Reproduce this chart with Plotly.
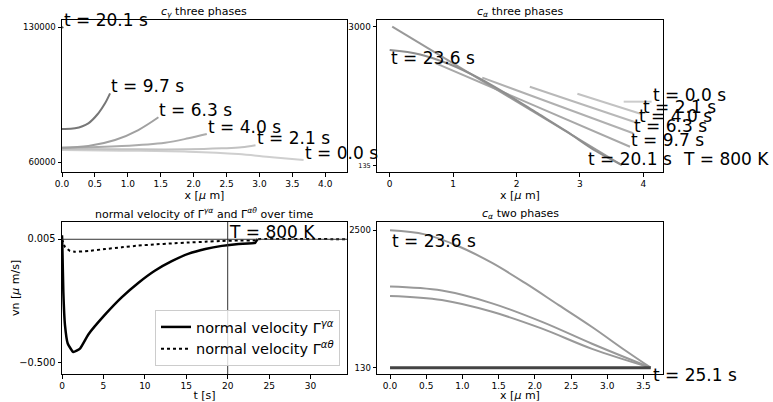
import plotly.graph_objects as go

# ---------------- data ----------------
# top-left: c_gamma, three phases
cg_labels = ["0.0", "2.1", "4.0", "6.3", "9.7", "20.1"]
cg_x = [
    [0, 0.907, 1.92, 2.68, 3.19, 3.67],
    [0, 0.907, 1.92, 2.43, 2.73, 2.94],
    [0, 0.907, 1.566, 1.92, 2.2],
    [0, 0.40, 0.806, 1.16, 1.465],
    [0, 0.198, 0.40, 0.552, 0.654, 0.73],
    [0, 0.02],
]
cg_y = [
    [66230, 65880, 65350, 64150, 62440, 61040],
    [66740, 66590, 66590, 67100, 67620, 68660],
    [67400, 68300, 70010, 72290, 74520],
    [67420, 68300, 71410, 76590, 83180],
    [77110, 77475, 80070, 85250, 90440, 95600],
    [129600, 130000],
]
cg_colors = ["#cfcfcf", "#c2c2c2", "#acacac", "#a0a0a0", "#777777", "#555555"]

# top-right: c_alpha, three phases
ca_labels = ["0.0", "2.1", "4.0", "6.3", "9.7", "20.1", "23.6"]
ca_x = [
    [3.69, 4.13],
    [2.96, 3.98],
    [2.21, 3.92],
    [1.46, 3.84],
    [0.73, 3.79],
    [0.04, 3.66],
    [0, 0.48, 0.945, 1.41, 1.87, 2.33, 2.79, 3.25, 3.66],
]
ca_y = [
    [1450, 1450],
    [1615, 1188],
    [1761, 1001],
    [1948, 793],
    [2246, 515],
    [3006, 135],
    [2520, 2430, 2226, 1937, 1588, 1210, 832, 426, 135],
]
ca_colors = ["#cccccc", "#c2c2c2", "#b8b8b8", "#b0b0b0", "#a8a8a8", "#999999", "#8e8e8e"]
ca_label_pos = {"20.1": (3.11, 121), "23.6": (0.0, 2211)}

# bottom-left: normal velocity over time
vel_t_ga = [0, 0.04, 0.16, 0.36, 0.69, 1.37, 2.17, 3.18, 5.19, 7.2, 9.2, 11.2,
            13.25, 15.3, 17.3, 19.3, 21.3, 23.3, 23.6]
vel_ga = [0.02, -0.020, -0.211, -0.348, -0.423, -0.458, -0.444, -0.386, -0.305,
          -0.234, -0.175, -0.125, -0.086, -0.055, -0.036, -0.023, -0.015, -0.011, 0.005]
vel_t_at = [0, 0.36, 0.97, 1.57, 3.18, 5.19, 7.2, 9.2, 11.2, 13.25, 15.3, 17.3,
            19.3, 21.3, 23.3, 23.6, 35]
vel_at = [0.005, -0.027, -0.044, -0.047, -0.044, -0.036, -0.029, -0.022, -0.017,
          -0.013, -0.009, -0.006, -0.003, -0.001, 0.000, 0.004, 0.004]

# bottom-right: c_alpha, two phases
c2_x = [
    [0, 0.48, 0.945, 1.41, 1.87, 2.33, 2.79, 3.25, 3.6],
    [0, 0.715, 1.41, 2.1, 2.79, 3.6],
    [0, 0.715, 1.41, 2.1, 2.79, 3.6],
]
c2_y = [
    [2500, 2430, 2226, 1937, 1588, 1210, 832, 426, 130],
    [1529, 1460, 1240, 920, 543, 130],
    [1367, 1297, 1094, 804, 455, 130],
]
c2_final_x = [0, 3.6]
c2_final_y = [130, 130]

# ---------------- figure ----------------
fig = go.Figure()
FONT = "DejaVu Sans"
LBL = 17

W, H = 773, 402

def dx(p):
    return p / W

def dy(p):
    return 1 - p / H

ann = []

def label(text, x, y, xref, yref, size=LBL):
    ann.append(dict(text=text, x=x, y=y, xref=xref, yref=yref, xanchor="left",
                    yanchor="bottom", yshift=-5, xshift=-1, showarrow=False,
                    font=dict(size=size, color="black", family=FONT)))

for xs, ys, c, lab in zip(cg_x, cg_y, cg_colors, cg_labels):
    fig.add_trace(go.Scatter(x=xs, y=ys, mode="lines", line=dict(color=c, width=2, shape="spline"),
                             xaxis="x", yaxis="y", showlegend=False))
    label(f"t = {lab} s", xs[-1], ys[-1], "x", "y")

for xs, ys, c, lab in zip(ca_x, ca_y, ca_colors, ca_labels):
    fig.add_trace(go.Scatter(x=xs, y=ys, mode="lines", line=dict(color=c, width=2, shape="spline"),
                             xaxis="x2", yaxis="y2", showlegend=False))
    px, py = ca_label_pos.get(lab, (xs[-1], ys[-1]))
    label(f"t = {lab} s", px, py, "x2", "y2")
label("T = 800 K", dx(681.7), dy(165.7), "paper", "paper")

fig.add_trace(go.Scatter(x=vel_t_ga, y=vel_ga, mode="lines",
                         line=dict(color="black", width=2.5, shape="spline", smoothing=0.4),
                         name="normal velocity Γ<sup><i>γα</i></sup>", xaxis="x3", yaxis="y3"))
fig.add_trace(go.Scatter(x=vel_t_at, y=vel_at, mode="lines",
                         line=dict(color="black", width=2, dash="dot", shape="spline", smoothing=0.4),
                         name="normal velocity Γ<sup><i>αθ</i></sup>", xaxis="x3", yaxis="y3"))
label("T = 800 K", 20, 0.005, "x3", "y3")

for xs, ys in zip(c2_x, c2_y):
    fig.add_trace(go.Scatter(x=xs, y=ys, mode="lines", line=dict(color="#999999", width=2, shape="spline"),
                             xaxis="x4", yaxis="y4", showlegend=False))
fig.add_trace(go.Scatter(x=c2_final_x, y=c2_final_y, mode="lines", line=dict(color="#444444", width=3),
                         xaxis="x4", yaxis="y4", showlegend=False))
label("t = 23.6 s", 0.01, 2200, "x4", "y4")
label("t = 25.1 s", dx(651.7), dy(381.7), "paper", "paper")

# reference lines in velocity panel
fig.add_shape(type="line", xref="x3 domain", yref="y3", x0=0, x1=1, y0=0.004, y1=0.004,
              line=dict(color="#333333", width=1))
fig.add_shape(type="line", xref="x3", yref="y3 domain", x0=20, x1=20, y0=0, y1=1,
              line=dict(color="#333333", width=1))

xl = [dx(62), dx(347)]
xr = [dx(377), dx(663)]
yt = [dy(172), dy(20)]
yb = [dy(374), dy(222)]

def ax(domain, anchor, rng, tickvals, ticktext=None, size=9, title=None, standoff=3):
    d = dict(domain=domain, anchor=anchor, range=rng, showgrid=False, zeroline=False,
             showline=True, linecolor="black", linewidth=1, mirror=True, automargin=False,
             ticks="outside", ticklen=3.5, tickwidth=1, tickcolor="black",
             tickvals=tickvals, tickfont=dict(size=size, color="black", family=FONT))
    if ticktext is not None:
        d["ticktext"] = ticktext
    if title:
        d["title"] = dict(text=title, font=dict(size=11, color="black", family=FONT), standoff=standoff)
    return d

xt_tl = [0, 0.5, 1.0, 1.5, 2.0, 2.5, 3.0, 3.5, 4.0]
xt_br = [0, 0.5, 1.0, 1.5, 2.0, 2.5, 3.0, 3.5]
xt_bl = [0, 5, 10, 15, 20, 25, 30]
xtitle = "x [<i>μ</i> m]"

fig.update_layout(
    width=W, height=H, margin=dict(l=0, r=0, t=0, b=0),
    paper_bgcolor="white", plot_bgcolor="white",
    font=dict(family=FONT, color="black"),
    xaxis=ax(xl, "y", [0, 4.33], xt_tl, [f"{v:.1f}" for v in xt_tl], title=xtitle),
    yaxis=ax(yt, "x", [54815, 133630], [60000, 130000], ["60000", "130000"], size=8.6),
    xaxis2=ax(xr, "y2", [-0.2, 4.31], [0, 1, 2, 3, 4], title=xtitle),
    yaxis2=ax(yt, "x2", [-10, 3145], [135, 3000],
              ["<span style='font-size:6.5px'>135</span>", "3000"], size=8.8),
    xaxis3=ax(xl, "y3", [0, 34.4], xt_bl, [str(v) for v in xt_bl], title="t [s]"),
    yaxis3=ax(yb, "x3", [-0.548, 0.0748], [-0.5, 0.005], ["−0.500", "0.005"], size=9.8),
    xaxis4=ax(xr, "y4", [-0.18, 3.77], xt_br, [f"{v:.1f}" for v in xt_br], title=xtitle),
    yaxis4=ax(yb, "x4", [21, 2644], [130, 2500], ["130", "2500"], size=8.5),
    legend=dict(x=dx(340), xanchor="right", y=dy(366), yanchor="bottom",
                bordercolor="#cccccc", borderwidth=1, bgcolor="rgba(255,255,255,0.8)",
                font=dict(size=14.5, color="black", family=FONT), tracegroupgap=0),
)

titles = [
    ("<i>c</i><sub><i>γ</i></sub> three phases", (xl[0] + xl[1]) / 2, yt[1]),
    ("<i>c</i><sub><i>α</i></sub> three phases", (xr[0] + xr[1]) / 2, yt[1]),
    ("normal velocity of Γ<sup><i>γα</i></sup> and Γ<sup><i>αθ</i></sup> over time", (xl[0] + xl[1]) / 2, yb[1]),
    ("<i>c</i><sub><i>α</i></sub> two phases", (xr[0] + xr[1]) / 2, yb[1]),
]
for t, x, y in titles:
    ann.append(dict(text=t, x=x, y=y, xref="paper", yref="paper", xanchor="center",
                    yanchor="bottom", showarrow=False, yshift=-1,
                    font=dict(size=11, color="black", family=FONT)))

ann.append(dict(text="vn [<i>μ</i> m/s]", x=dx(15), y=dy(288), xref="paper", yref="paper",
                textangle=-90, showarrow=False, xanchor="center", yanchor="middle",
                font=dict(size=11, color="black", family=FONT)))

fig.update_layout(annotations=ann)
# remove the browser's default 8px page margin so the figure fills the window exactly
fig.write_html("out.html", config={"displayModeBar": False},
               post_script="document.body.style.margin='0';")
